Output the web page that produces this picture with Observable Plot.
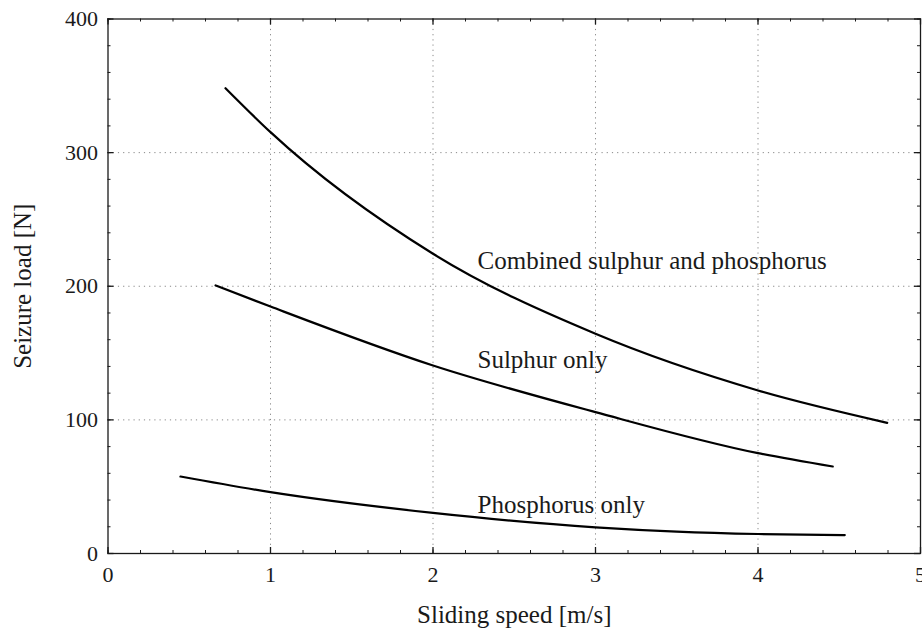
<!DOCTYPE html>
<html>
<head>
<meta charset="utf-8">
<script src="https://cdn.jsdelivr.net/npm/d3@7"></script>
<script src="https://cdn.jsdelivr.net/npm/@observablehq/plot@0.6"></script>
<style>
  html, body { margin: 0; padding: 0; background: #fff; }
  svg text { font-family: 'Liberation Serif', 'DejaVu Serif', serif; }
</style>
</head>
<body>
<div id="chart"></div>
<script>
// Data
const combinedX = [0.723, 1.0, 2.0, 3.0, 4.0, 4.795];
const combinedY = [348.2, 315.3, 224.3, 164.4, 122.0, 97.8];

const sulphurX = [0.662, 1.0, 2.0, 3.0, 4.0, 4.46];
const sulphurY = [200.6, 184.8, 140.7, 105.8, 75.1, 65.1];

const phosphorusX = [0.446, 1.0, 2.0, 3.0, 3.5, 4.0, 4.534];
const phosphorusY = [57.6, 45.9, 30.4, 19.6, 16.4, 14.6, 13.8];

const seriesNames = ["Combined sulphur and phosphorus", "Sulphur only", "Phosphorus only"];
const labelX = [2.274, 2.274, 2.274];
const labelY = [219, 144.5, 36];

const xTickLabels = [0, 1, 2, 3, 4, 5];
const yTickLabels = [0, 100, 200, 300, 400];
const xLabel = "Sliding speed [m/s]";
const yLabel = "Seizure load [N]";

const xMinor = d3.range(0, 5.0001, 0.2).map(v => +v.toFixed(2));
const yMinor = d3.range(0, 400.001, 20);

const series = [
  {name: seriesNames[0], xs: combinedX, ys: combinedY},
  {name: seriesNames[1], xs: sulphurX, ys: sulphurY},
  {name: seriesNames[2], xs: phosphorusX, ys: phosphorusY}
];
const rows = series.flatMap(s => s.xs.map((x, i) => ({series: s.name, x, y: s.ys[i]})));
const labels = seriesNames.map((t, i) => ({text: t, x: labelX[i], y: labelY[i]}));

const W = 922, Hh = 629;
const mL = 107.5, mR = 2, mT = 18.5, mB = 76;
const PH = Hh - mT - mB;
const PW = W - mL - mR;
const FONT = "'Liberation Serif', 'DejaVu Serif', serif";
const ink = "#1a1a1a";

const chart = Plot.plot({
  width: W,
  height: Hh,
  marginLeft: mL,
  marginRight: mR,
  marginTop: mT,
  marginBottom: mB,
  style: {fontFamily: FONT, fontSize: "22px", color: ink, background: "#fff", overflow: "visible"},
  x: {domain: [0, 5]},
  y: {domain: [0, 400]},
  marks: [
    Plot.gridX(xTickLabels.slice(1, -1), {stroke: "#888", strokeOpacity: 1, strokeDasharray: "1.2,4"}),
    Plot.gridY(yTickLabels.slice(1, -1), {stroke: "#888", strokeOpacity: 1, strokeDasharray: "1.2,4"}),
    // inward minor/major ticks on four sides
    Plot.tickX(xMinor, {x: d => d, insetTop: PH - 3, stroke: ink}),
    Plot.tickX(xMinor, {x: d => d, insetBottom: PH - 3, stroke: ink}),
    Plot.tickX(xTickLabels, {x: d => d, insetTop: PH - 6, stroke: ink, strokeWidth: 1.3}),
    Plot.tickX(xTickLabels, {x: d => d, insetBottom: PH - 6, stroke: ink, strokeWidth: 1.3}),
    Plot.tickY(yMinor, {y: d => d, insetRight: PW - 3, stroke: ink}),
    Plot.tickY(yMinor, {y: d => d, insetLeft: PW - 3, stroke: ink}),
    Plot.tickY(yTickLabels, {y: d => d, insetRight: PW - 6, stroke: ink, strokeWidth: 1.3}),
    Plot.tickY(yTickLabels, {y: d => d, insetLeft: PW - 6, stroke: ink, strokeWidth: 1.3}),
    Plot.frame({stroke: ink, strokeWidth: 1.3}),
    Plot.axisX({ticks: xTickLabels, tickSize: 0, tickPadding: 13, fontSize: 22, label: null, tickFormat: d => String(d)}),
    Plot.axisY({ticks: yTickLabels, tickSize: 0, tickPadding: 10, fontSize: 22, label: null, tickFormat: d => String(d)}),
    Plot.line(rows, {x: "x", y: "y", z: "series", curve: "monotone-x", stroke: "#000", strokeWidth: 2.2}),
    Plot.text(labels, {x: "x", y: "y", text: "text", textAnchor: "start", lineAnchor: "middle", fontSize: 25, fill: ink}),
    Plot.text([xLabel], {text: d => d, frameAnchor: "bottom", textAnchor: "middle", lineAnchor: "middle", dy: 61, fontSize: 25, fill: ink}),
    Plot.text([yLabel], {text: d => d, frameAnchor: "left", textAnchor: "middle", lineAnchor: "middle", dx: -85, rotate: -90, fontSize: 25, fill: ink})
  ]
});
document.getElementById("chart").appendChild(chart);
</script>
</body>
</html>
